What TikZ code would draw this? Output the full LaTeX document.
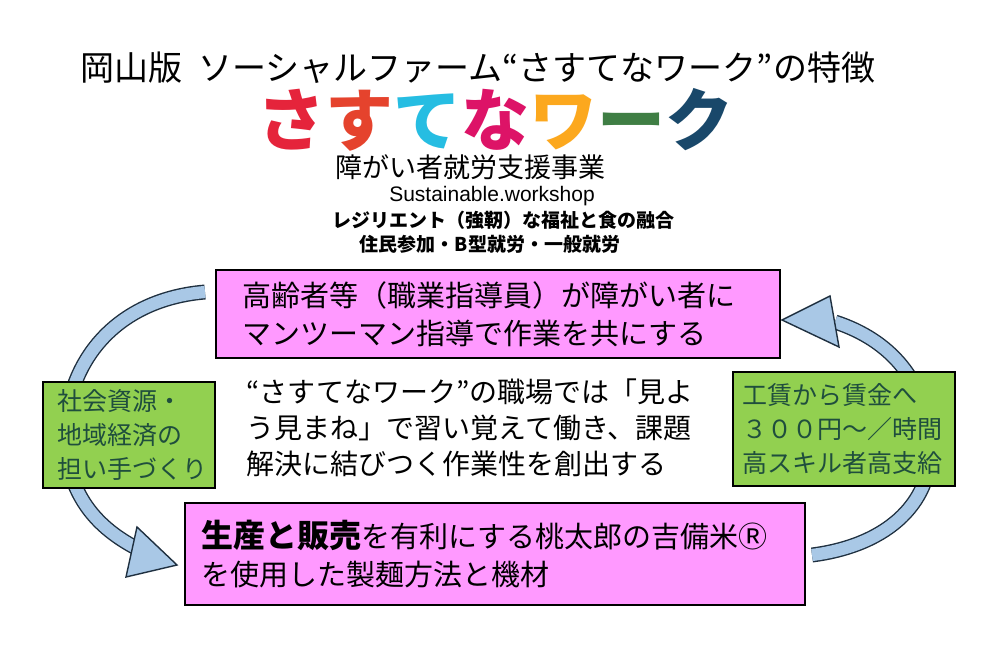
\documentclass[tikz,border=0pt]{standalone}
\usepackage{fontspec}
\setmainfont{Noto Sans CJK JP}
\newfontfamily\latinfont{Liberation Sans}
\usetikzlibrary{positioning}
\definecolor{pinkbox}{HTML}{FF99FF}
\definecolor{greenbox}{HTML}{92D050}
\definecolor{greentext}{HTML}{1F4E3D}
\definecolor{arrowfill}{HTML}{A9C8E6}
\definecolor{arrowedge}{HTML}{1F3040}
\tikzstyle{every node}=[inner sep=0pt]
\tikzstyle{pinkcard}=[draw=black,thick,fill=pinkbox,align=left,font=\fontsize{14.5pt}{19pt}\selectfont]
\tikzstyle{greencard}=[draw=black,thick,fill=greenbox,text=greentext,align=left,font=\fontsize{12.5pt}{17pt}\selectfont]
\tikzstyle{shaftout}=[line width=7.5pt,draw=arrowedge]
\tikzstyle{shaftin}=[line width=6.1pt,draw=arrowfill]
\tikzstyle{arrowhead}=[fill=arrowfill,draw=arrowedge,line width=0.7pt,line join=miter]
\begin{document}
\begin{tikzpicture}[x=0.5pt,y=-0.5pt]
  \useasboundingbox (0,0) rectangle (1000,646);
  \fill[white] (0,0) rectangle (1000,646);
  % headings
  \node (title) at (478,68) {\fontsize{17pt}{20pt}\selectfont 岡山版\ \ ソーシャルファーム“さすてなワーク”の特徴};
  \node (logo) at (495,120) {\fontsize{34pt}{36pt}\selectfont\bfseries
    \textcolor[HTML]{E5243B}{さ}\textcolor[HTML]{E5432D}{す}\textcolor[HTML]{26BDE2}{て}\textcolor[HTML]{DD1367}{な}\textcolor[HTML]{FCA81E}{ワ}\textcolor[HTML]{3F7E44}{ー}\textcolor[HTML]{19486A}{ク}};
  \node (business) at (470,167) {\fontsize{13.5pt}{15pt}\selectfont 障がい者就労支援事業};
  \node (english) at (492,196) {\fontsize{10.5pt}{12pt}\selectfont\latinfont Sustainable.workshop};
  \node (resilient) at (503,220) {\fontsize{9.5pt}{10pt}\selectfont\bfseries レジリエント（強靭）な福祉と食の融合};
  \node (joining) at (490,244) {\fontsize{9.5pt}{10pt}\selectfont\bfseries 住民参加・B型就労・一般就労};
  % arrows
  \draw[shaftout] (205,292) .. controls (110,300) and (60,370) .. (66,450) .. controls (72,500) and (100,530) .. (140,550);
  \draw[shaftin] (205,292) .. controls (110,300) and (60,370) .. (66,450) .. controls (72,500) and (100,530) .. (140,550);
  \draw[arrowhead] (137,527) -- (177,565) -- (126,577) -- cycle;
  \draw[shaftout] (812,555) .. controls (890,545) and (935,500) .. (930,440) .. controls (925,380) and (890,340) .. (835,322);
  \draw[shaftin] (812,555) .. controls (890,545) and (935,500) .. (930,440) .. controls (925,380) and (890,340) .. (835,322);
  \draw[arrowhead] (830,296) -- (782,320) -- (839,347) -- cycle;
  % boxes
  \node[pinkcard,minimum width=282pt,minimum height=44pt,text width=256pt] (mentor) at (498,314)
    {高齢者等（職業指導員）が障がい者に\\マンツーマン指導で作業を共にする};
  \node[align=left,font=\fontsize{14pt}{18pt}\selectfont] (workplace) at (470,428)
    {“さすてなワーク”の職場では「見よ\\う見まね」で習い覚えて働き、課題\\解決に結びつく作業性を創出する};
  \node[greencard,minimum width=86pt,minimum height=53pt,text width=72pt] (resource) at (129,435)
    {社会資源・\\地域経済の\\担い手づくり};
  \node[greencard,minimum width=111pt,minimum height=57pt,text width=102pt] (wage) at (844,429)
    {工賃から賃金へ\\３００円～／時間\\高スキル者高支給};
  \node[pinkcard,minimum width=310pt,minimum height=51pt,text width=294pt] (rice) at (495,554)
    {{\fontsize{16pt}{19pt}\selectfont\bfseries 生産と販売}を有利にする桃太郎の吉備米Ⓡ\\を使用した製麺方法と機材};
\end{tikzpicture}
\end{document}
